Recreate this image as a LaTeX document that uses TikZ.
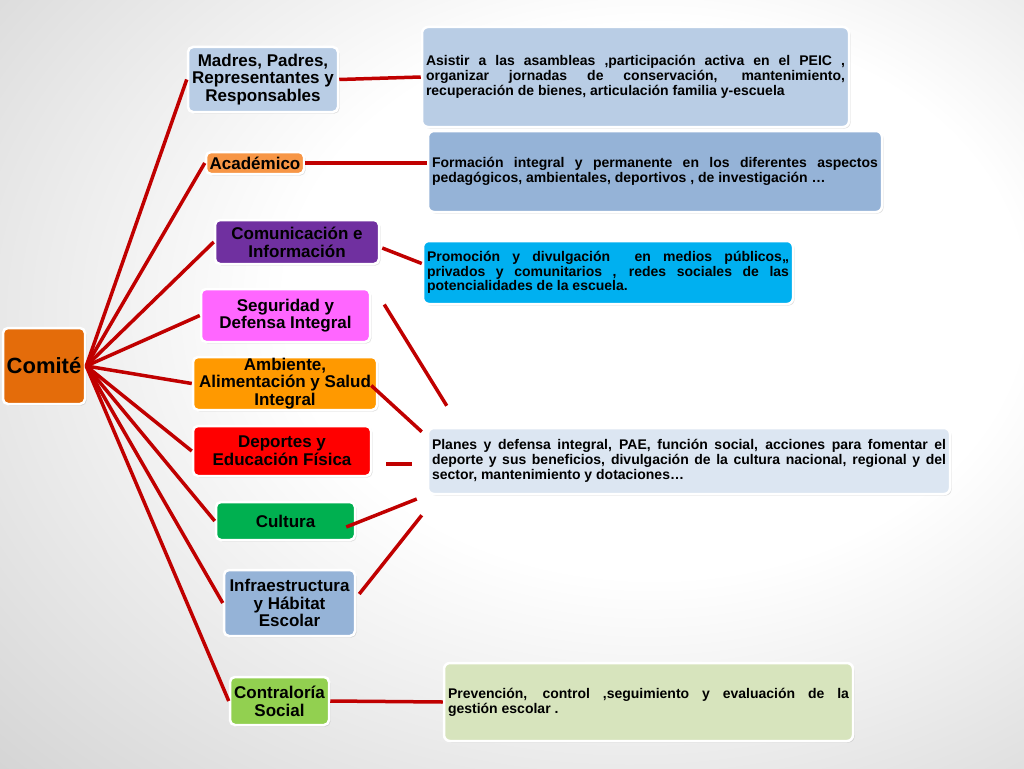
\documentclass[tikz,border=0pt]{standalone}
\usepackage{fontspec}
\setmainfont{Liberation Sans}
\usetikzlibrary{calc,shadows}
\definecolor{linkred}{HTML}{C00000}
\definecolor{cComite}{HTML}{E46C0A}
\definecolor{cMadres}{HTML}{B9CDE5}
\definecolor{cAcad}{HTML}{F79646}
\definecolor{cComun}{HTML}{7030A0}
\definecolor{cSegur}{HTML}{FF66FF}
\definecolor{cAmb}{HTML}{FF9900}
\definecolor{cDep}{HTML}{FF0000}
\definecolor{cCult}{HTML}{00B050}
\definecolor{cInfra}{HTML}{95B3D7}
\definecolor{cContra}{HTML}{92D050}
\definecolor{cAsis}{HTML}{B9CDE5}
\definecolor{cForm}{HTML}{95B3D7}
\definecolor{cProm}{HTML}{00B0F0}
\definecolor{cPlan}{HTML}{DCE6F2}
\definecolor{cPrev}{HTML}{D7E4BD}
\pgfdeclareradialshading{bgshade}{\pgfpoint{9bp}{7bp}}{color(0bp)=(white); color(18bp)=(white); color(50bp)=(black!23); color(80bp)=(black!30)}
\hbadness=10000
\begin{document}
\begin{tikzpicture}[x=1pt,y=-1pt,
  box/.style={draw=white, line width=2.5pt, rounded corners=5pt, align=center,
    font=\bfseries\fontsize{17}{17.7}\selectfont, inner sep=2pt, text=black,
    drop shadow={shadow xshift=1.5pt, shadow yshift=-1.5pt, opacity=0.25}},
  tbox/.style={draw=white, line width=2.5pt, rounded corners=6pt, align=justify,
    font=\bfseries\fontsize{14}{14.8}\selectfont, inner xsep=4pt, inner ysep=2pt, text=black,
    drop shadow={shadow xshift=1.5pt, shadow yshift=-1.5pt, opacity=0.25}},
  link/.style={draw=linkred, line width=3.5pt}]
\useasboundingbox (0,0) rectangle (1024,768);
\shade[shading=bgshade] (0,0) rectangle (1024,768);

% left column
\node[box, fill=cComite, minimum width=82, minimum height=76, font=\bfseries\fontsize{22}{24}\selectfont] (comite) at (44,366) {Comité};
\node[box, fill=cMadres, minimum width=150, minimum height=65] (madres) at (263,79.5) {Madres, Padres,\\Representantes y\\Responsables};
\node[box, fill=cAcad, minimum width=98, minimum height=22, inner ysep=0pt] (academico) at (255,163) {Académico};
\node[box, fill=cComun, minimum width=164, minimum height=44] (comunic) at (297,242) {Comunicación e\\Información};
\node[box, fill=cSegur, minimum width=169, minimum height=53] (seguridad) at (285.5,315.5) {Seguridad y\\Defensa Integral};
\node[box, fill=cAmb, minimum width=184, minimum height=53, inner sep=0pt] (ambiente) at (285,383.5) {Ambiente,\\Alimentación y Salud\\Integral};
\node[box, fill=cDep, minimum width=178, minimum height=50] (deportes) at (282,451) {Deportes y\\Educación Física};
\node[box, fill=cCult, minimum width=139, minimum height=38] (cultura) at (285.5,521) {Cultura};
\node[box, fill=cInfra, minimum width=131, minimum height=66] (infra) at (289.5,603) {Infraestructura\\y Hábitat\\Escolar};
\node[box, fill=cContra, minimum width=99, minimum height=48] (contra) at (279.5,701) {Contraloría\\Social};

% right column
\node[tbox, fill=cAsis, text width=419pt, minimum height=100] (asistir) at (635.5,77) {Asistir a las asambleas ,participación activa en el PEIC ,\linebreak organizar jornadas de conservación, mantenimiento,\linebreak recuperación de bienes, articulación familia y-escuela};
\node[tbox, fill=cForm, text width=446pt, minimum height=81] (formacion) at (655,171.5) {Formación integral y permanente en los diferentes aspectos\linebreak pedagógicos, ambientales, deportivos , de investigación …};
\node[tbox, fill=cProm, text width=362pt, minimum height=63] (promocion) at (608,272.5) {Promoción y divulgación \ en medios públicos,,\linebreak privados y comunitarios , redes sociales de las\linebreak potencialidades de la escuela.};
\node[tbox, fill=cPlan, text width=514pt, minimum height=66] (planes) at (689,461) {Planes y defensa integral, PAE, función social, acciones para fomentar el\linebreak deporte y sus beneficios, divulgación de la cultura nacional, regional y del\linebreak sector, mantenimiento y dotaciones…};
\node[tbox, fill=cPrev, text width=401pt, minimum height=78] (prevencion) at (648.5,702) {Prevención, control ,seguimiento y evaluación de la\linebreak gestión escolar .};

% free line ends
\coordinate (c1a) at ($(comunic.east)+(2,6)$);
\coordinate (c1b) at ($(promocion.west)+(0,-9)$);
\coordinate (s1a) at ($(seguridad.east)+(13,-11)$);
\coordinate (s1b) at ($(planes.north west)+(20,-21)$);
\coordinate (a1a) at ($(ambiente.east)+(-7,2)$);
\coordinate (a1b) at ($(planes.north west)+(-5,5)$);
\coordinate (d1a) at ($(deportes.east)+(14,13)$);
\coordinate (d1b) at ($(deportes.east)+(40,13)$);
\coordinate (k1a) at ($(cultura.east)+(-10,6)$);
\coordinate (k1b) at ($(planes.west)+(-10,38)$);
\coordinate (i1a) at ($(infra.east)+(3,-9)$);
\coordinate (i1b) at ($(planes.south west)+(-5,20)$);

% connectors from Comité
\foreach \n in {madres,academico,comunic,seguridad,ambiente,deportes,cultura,infra,contra}
  \draw[link] (comite.east) -- (\n.west);

% right connectors
\draw[link] (madres.east) -- (asistir.west);
\draw[link] (academico.east) -- (academico.east -| formacion.west);
\draw[link] (c1a) -- (c1b);
\draw[link] (s1a) -- (s1b);
\draw[link] (a1a) -- (a1b);
\draw[link] (d1a) -- (d1b);
\draw[link] (k1a) -- (k1b);
\draw[link] (i1a) -- (i1b);
\draw[link] (contra.east) -- (prevencion.west);
\end{tikzpicture}
\end{document}
